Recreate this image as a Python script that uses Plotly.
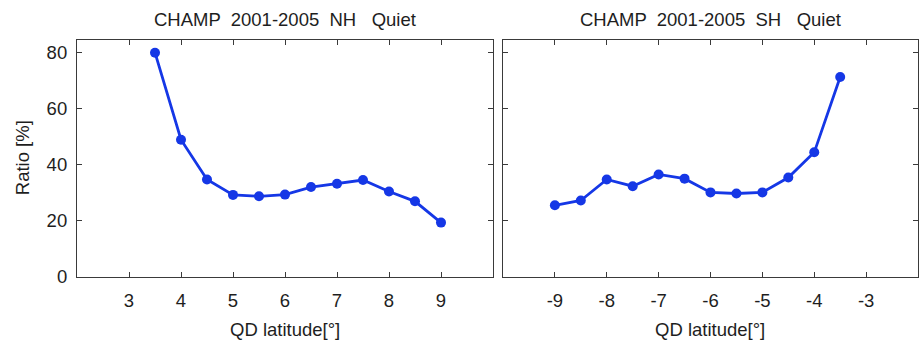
import plotly.graph_objects as go

nh_lat = [3.5, 4, 4.5, 5, 5.5, 6, 6.5, 7, 7.5, 8, 8.5, 9]
nh_ratio = [80.0, 48.9, 34.7, 29.2, 28.7, 29.3, 32.0, 33.2, 34.5, 30.4, 26.9, 19.3]
sh_lat = [-9, -8.5, -8, -7.5, -7, -6.5, -6, -5.5, -5, -4.5, -4, -3.5]
sh_ratio = [25.5, 27.2, 34.7, 32.3, 36.5, 35.0, 30.1, 29.7, 30.1, 35.4, 44.4, 71.3]
nh_ticks = [3, 4, 5, 6, 7, 8, 9]
nh_ticktext = ["3", "4", "5", "6", "7", "8", "9"]
sh_ticks = [-9, -8, -7, -6, -5, -4, -3]
sh_ticktext = ["-9", "-8", "-7", "-6", "-5", "-4", "-3"]
y_ticks = [0, 20, 40, 60, 80]
y_ticktext = ["0", "20", "40", "60", "80"]

W, H = 920, 341
BLUE = "#1537e6"
AX = "#3a3a3a"
FONT = "Liberation Sans, Arial, sans-serif"
FS = 18.5

def px_x(p):
    return p / W

def px_y(p):
    return 1 - p / H

fig = go.Figure()
fig.add_trace(go.Scatter(x=nh_lat, y=nh_ratio, mode="lines+markers", xaxis="x", yaxis="y",
                         line=dict(color=BLUE, width=2.8), marker=dict(color=BLUE, size=10),
                         showlegend=False))
fig.add_trace(go.Scatter(x=sh_lat, y=sh_ratio, mode="lines+markers", xaxis="x2", yaxis="y2",
                         line=dict(color=BLUE, width=2.8), marker=dict(color=BLUE, size=10),
                         showlegend=False))

ydom = [px_y(285), px_y(41)]
tfont = dict(family=FONT, size=FS, color="#1e1e1e")
common_x = dict(showline=True, linecolor=AX, linewidth=1.2, mirror="ticks", ticks="inside",
                ticklen=5, tickcolor=AX, showgrid=False, zeroline=False,
                tickfont=tfont, ticklabelstandoff=7)
common_y = dict(showline=True, linecolor=AX, linewidth=1.2, mirror="ticks", ticks="inside",
                ticklen=5, tickcolor=AX, showgrid=False, zeroline=False, range=[0, 84.6],
                tickvals=y_ticks, ticktext=y_ticktext, tickfont=tfont)

fig.update_layout(
    width=W, height=H, paper_bgcolor="white", plot_bgcolor="white",
    margin=dict(l=0, r=0, t=0, b=0),
    xaxis=dict(domain=[px_x(77), px_x(493)], range=[2, 10], tickvals=nh_ticks,
               ticktext=nh_ticktext, anchor="y", **common_x),
    yaxis=dict(domain=ydom, anchor="x", ticklabelstandoff=5, **common_y),
    xaxis2=dict(domain=[px_x(503), px_x(918)], range=[-10, -2], tickvals=sh_ticks,
                ticktext=sh_ticktext, anchor="y2", **common_x),
    yaxis2=dict(domain=ydom, anchor="x2", showticklabels=False, **common_y),
)

ann_font = dict(family=FONT, size=FS, color="#1e1e1e")
anns = [
    dict(text="CHAMP  2001-2005  NH   Quiet", x=px_x(285), y=px_y(20.5)),
    dict(text="CHAMP  2001-2005  SH   Quiet", x=px_x(710), y=px_y(20.5)),
    dict(text="QD latitude[°]", x=px_x(285), y=px_y(339)),
    dict(text="QD latitude[°]", x=px_x(710), y=px_y(339)),
]
for a in anns:
    fig.add_annotation(xref="paper", yref="paper", showarrow=False, xanchor="center",
                       yanchor="middle", font=ann_font, **a)
fig.add_annotation(xref="paper", yref="paper", showarrow=False, text="Ratio [%]",
                   x=px_x(22), y=px_y(163), textangle=-90, xanchor="center", yanchor="middle",
                   font=ann_font)

fig.write_html("out.html")
